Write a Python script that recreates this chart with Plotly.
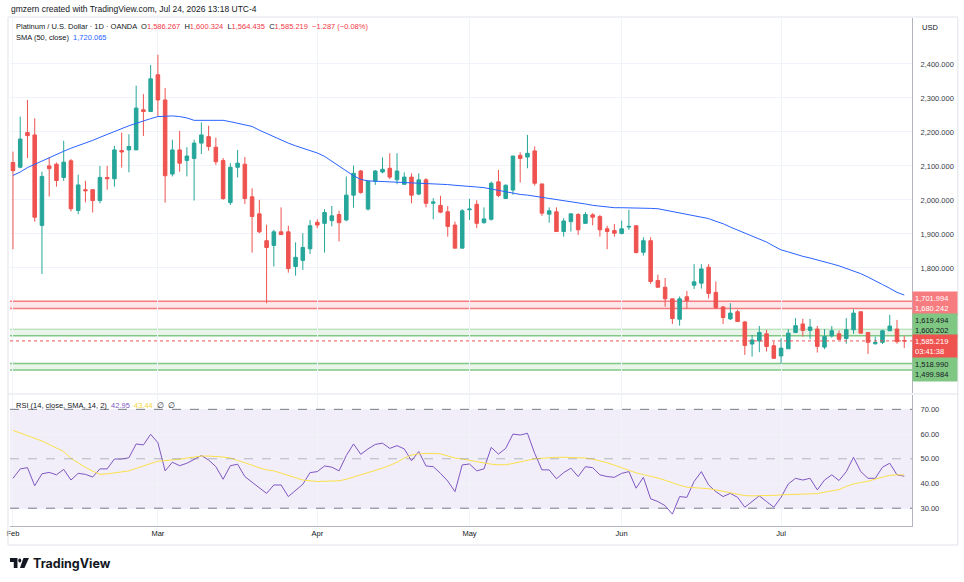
import pandas as pd
import plotly.graph_objects as go

# trading days Feb 2 - Jul 24 2026 (Good Friday closed)
dates = pd.bdate_range("2026-02-02", "2026-07-24")
dates = dates[dates != pd.Timestamp("2026-04-03")]
days = [d.strftime("%Y-%m-%d") for d in dates]

opens = [2110, 2096, 2198, 2191, 1925, 2100, 2105, 2066, 2115, 1969,
         2030, 2030, 1998, 2066, 2062, 2145, 2147, 2147, 2265, 2260,
         2368, 2294, 2076, 2147, 2116, 2122, 2167, 2186, 2155, 2116,
         1992, 2096, 2105, 2009, 1959, 1880, 1866, 1906, 1906, 1804,
         1822, 1856, 1934, 1931, 1939, 1957, 1941, 2014, 2085, 1973,
         2055, 2082, 2093, 2059, 2046, 2067, 2017, 2059, 1990, 1984,
         1965, 1926, 1858, 1971, 1987, 1933, 1943, 2053, 2004, 2029,
         2131, 2126, 2144, 2047, 1958, 1965, 1907, 1936, 1957, 1931,
         1956, 1951, 1915, 1910, 1901, 1920, 1924, 1846, 1880, 1763,
         1743, 1709, 1649, 1715, 1749, 1755, 1802, 1728, 1685, 1650,
         1671, 1641, 1576, 1585, 1606, 1571, 1541, 1562, 1610, 1635,
         1616, 1620, 1567, 1600, 1606, 1592, 1618, 1671, 1610, 1577,
         1581, 1615, 1620, 1586.267]
highs = [2142, 2245, 2294, 2240, 2083, 2126, 2110, 2174, 2120, 2074,
         2056, 2030, 2100, 2100, 2159, 2198, 2193, 2336, 2311, 2397,
         2427, 2329, 2177, 2203, 2155, 2177, 2228, 2218, 2183, 2123,
         2108, 2147, 2126, 2034, 2000, 1927, 1912, 1978, 1924, 1875,
         1902, 1941, 1943, 1973, 1982, 1968, 2069, 2101, 2088, 2055,
         2088, 2125, 2137, 2137, 2081, 2078, 2078, 2064, 2005, 2012,
         1982, 1936, 1973, 2003, 1999, 1978, 2054, 2088, 2046, 2129,
         2140, 2191, 2157, 2047, 1978, 1978, 1946, 1959, 1961, 1964,
         1961, 1956, 1924, 1929, 1939, 1971, 1924, 1890, 1890, 1780,
         1770, 1709, 1716, 1732, 1811, 1811, 1811, 1760, 1688, 1696,
         1677, 1644, 1603, 1629, 1618, 1583, 1593, 1620, 1652, 1650,
         1650, 1629, 1620, 1629, 1616, 1652, 1678, 1671, 1610, 1598,
         1618, 1662, 1647, 1600.324]
lows = [1855, 2093, 2123, 1936, 1782, 2010, 2039, 2056, 1966, 1958,
        1993, 1963, 1990, 2030, 2039, 2095, 2081, 2147, 2188, 2260,
        2245, 1992, 2069, 2083, 2069, 1998, 2135, 2145, 2103, 2000,
        1985, 2066, 1988, 1845, 1902, 1696, 1804, 1898, 1786, 1777,
        1794, 1841, 1917, 1845, 1922, 1878, 1937, 1977, 2018, 1969,
        2044, 2078, 2061, 2046, 2044, 1990, 2014, 1978, 1943, 1961,
        1892, 1858, 1858, 1941, 1917, 1930, 1939, 2008, 2004, 2015,
        2051, 2093, 2042, 1953, 1933, 1907, 1892, 1907, 1897, 1930,
        1925, 1892, 1855, 1892, 1899, 1912, 1843, 1836, 1753, 1743,
        1686, 1635, 1630, 1680, 1738, 1739, 1710, 1679, 1635, 1647,
        1642, 1544, 1539, 1552, 1554, 1534, 1518, 1562, 1608, 1598,
        1590, 1551, 1561, 1595, 1588, 1577, 1606, 1608, 1547, 1574,
        1576, 1615, 1577, 1564.435]
closes = [2086, 2179, 2189, 1949, 2069, 2092, 2057, 2111, 1974, 2044,
          2027, 1998, 2066, 2062, 2147, 2141, 2157, 2270, 2260, 2356,
          2294, 2071, 2147, 2108, 2129, 2167, 2191, 2157, 2112, 2004,
          2096, 2108, 2004, 1951, 1906, 1860, 1906, 1898, 1798, 1831,
          1860, 1924, 1926, 1963, 1953, 1933, 2014, 2078, 2022, 2055,
          2085, 2090, 2067, 2085, 2067, 2014, 2059, 1990, 1994, 1964,
          1922, 1858, 1968, 1973, 1931, 1944, 2049, 2013, 2043, 2129,
          2122, 2137, 2049, 1961, 1968, 1907, 1938, 1959, 1912, 1957,
          1949, 1912, 1907, 1902, 1915, 1922, 1845, 1880, 1760, 1743,
          1709, 1651, 1709, 1704, 1759, 1797, 1725, 1683, 1654, 1667,
          1642, 1572, 1588, 1610, 1569, 1534, 1564, 1608, 1630, 1616,
          1626, 1569, 1598, 1615, 1590, 1618, 1667, 1608, 1581, 1581,
          1615, 1629, 1583, 1585.219]
sma50 = [2072, 2082, 2095, 2105, 2115, 2124, 2134, 2143, 2152, 2159,
         2167, 2175, 2184, 2193, 2202, 2211, 2218, 2225, 2233, 2239,
         2245, 2246, 2247, 2245, 2241, 2234, 2234, 2235, 2235, 2234,
         2230, 2225, 2221, 2216, 2205, 2195, 2186, 2177, 2167, 2159,
         2152, 2145, 2138, 2128, 2114, 2100, 2086, 2071, 2060, 2056,
         2055, 2054, 2053, 2052, 2052, 2051, 2051, 2050, 2049, 2047,
         2045, 2043, 2042, 2040, 2038, 2036, 2032, 2028, 2023, 2019,
         2016, 2014, 2011, 2008, 2004, 2000, 1997, 1994, 1991, 1988,
         1984, 1981, 1978, 1977, 1977, 1977, 1977, 1976, 1975, 1974,
         1970, 1966, 1961, 1957, 1953, 1949, 1945, 1937, 1930, 1920,
         1911, 1903, 1895, 1886, 1876, 1864, 1853, 1847, 1840, 1834,
         1829, 1824, 1818, 1812, 1806, 1799, 1791, 1783, 1773, 1763,
         1751, 1740, 1728, 1720.065]
rsi = [42.1, 45.9, 46.4, 39.1, 43.9, 44.5, 43.5, 45.7, 41.4, 44.1,
       43.7, 42.6, 45.9, 45.9, 49.9, 49.9, 50.4, 56.0, 55.6, 59.9,
       56.5, 45.1, 48.6, 47.2, 48.2, 49.9, 51.3, 49.5, 46.8, 41.7,
       47.2, 47.8, 42.8, 40.5, 38.3, 36.0, 39.4, 39.4, 34.7, 37.4,
       39.7, 44.4, 44.8, 47.1, 46.6, 45.1, 51.3, 56.0, 51.8, 54.0,
       55.8, 56.3, 54.2, 55.3, 54.0, 49.2, 52.9, 47.1, 46.8, 44.1,
       41.0, 36.7, 47.5, 47.9, 45.1, 45.9, 54.6, 51.9, 54.2, 60.0,
       59.6, 60.3, 52.2, 45.5, 45.5, 41.9, 44.4, 46.2, 42.8, 46.8,
       46.4, 43.5, 42.8, 42.5, 44.1, 44.8, 38.1, 42.5, 33.8, 32.7,
       31.0, 27.6, 34.7, 34.4, 40.8, 44.8, 39.4, 36.7, 34.7, 36.0,
       34.4, 30.4, 32.7, 35.0, 32.7, 30.4, 34.4, 39.8, 42.1, 41.4,
       42.1, 37.4, 41.4, 43.5, 41.2, 44.8, 50.6, 44.8, 42.1, 42.1,
       46.6, 48.2, 43.5, 42.95]
rsi_ma = [61.5, 60.5, 59.5, 58.5, 57.2, 55.8, 54.4, 52.9, 50.2, 48.3,
          46.5, 45.0, 43.7, 43.9, 44.2, 44.6, 45.1, 46.1, 47.2, 48.1,
          49.0, 49.2, 49.4, 49.8, 50.3, 50.7, 51.1, 51.1, 51.0, 50.7,
          50.3, 49.4, 48.4, 47.4, 46.3, 45.5, 45.1, 44.2, 43.3, 42.3,
          41.4, 41.1, 40.8, 40.9, 41.0, 41.1, 41.7, 42.6, 43.4, 44.3,
          45.1, 46.2, 47.3, 48.6, 50.3, 51.5, 52.0, 52.2, 52.2, 52.0,
          51.0, 50.3, 49.9, 49.3, 48.7, 48.1, 47.8, 47.6, 47.6, 48.1,
          48.7, 49.4, 50.0, 50.2, 50.5, 50.6, 50.6, 50.6, 50.5, 50.3,
          49.9, 49.2, 48.4, 47.4, 46.3, 45.3, 44.3, 43.6, 43.0, 42.2,
          41.3, 40.2, 39.3, 38.5, 38.4, 38.2, 37.9, 37.4, 36.9, 36.3,
          35.7, 35.1, 35.0, 35.0, 35.1, 35.2, 35.4, 35.5, 35.6, 35.6,
          35.7, 35.9, 36.5, 36.9, 37.5, 38.8, 39.8, 40.4, 40.9, 41.8,
          42.6, 43.3, 43.5, 43.44]

price_ticks = [1800, 1900, 2000, 2100, 2200, 2300, 2400]
rsi_ticks = [30, 40, 50, 60, 70]
red_zone = [1680.242, 1701.994]
green_zone = [1600.202, 1619.494]
green_zone_low = [1499.984, 1518.990]
last_price = 1585.219

# first trading day of every month -> time axis ticks
month_ticks, month_names = [], []
for d in dates:
    if not month_ticks or d.month != pd.Timestamp(month_ticks[-1]).month:
        month_ticks.append(d.strftime("%Y-%m-%d"))
        month_names.append(d.strftime("%b"))

UP, DOWN = "#26a69a", "#ef5350"
GRID = "#f0f3fa"
TXT = "#131722"
FONT = "Liberation Sans"

# pixel helpers for decorations (plot area x 7..912, y 18..526)
def px(x):
    return (x - 7) / 905

def py(y):
    return (526 - y) / 508


fig = go.Figure()
fig.add_trace(go.Candlestick(x=days, open=opens, high=highs, low=lows, close=closes,
                             increasing=dict(line=dict(color=UP, width=1), fillcolor=UP),
                             decreasing=dict(line=dict(color=DOWN, width=1), fillcolor=DOWN),
                             whiskerwidth=0, showlegend=False, xaxis="x", yaxis="y"))
fig.add_trace(go.Scatter(x=days, y=sma50, mode="lines", line=dict(color="#2962ff", width=1),
                         showlegend=False, xaxis="x", yaxis="y"))
fig.add_trace(go.Scatter(x=days, y=rsi, mode="lines", line=dict(color="#7e57c2", width=1),
                         showlegend=False, xaxis="x2", yaxis="y2"))
fig.add_trace(go.Scatter(x=days, y=rsi_ma, mode="lines", line=dict(color="#fbe04a", width=1),
                         showlegend=False, xaxis="x2", yaxis="y2"))

shapes = []
# zones
for lo, hi, fill, c_lo, c_hi in [
        (red_zone[0], red_zone[1], "rgba(242,54,69,0.12)", "#f77c80", "#f77c80"),
        (green_zone[0], green_zone[1], "rgba(76,175,80,0.13)", "#81c784", "rgba(129,199,132,0.45)"),
        (green_zone_low[0], green_zone_low[1], "rgba(76,175,80,0.13)", "#81c784", "#81c784")]:
    shapes.append(dict(type="rect", xref="x domain", yref="y", x0=0, x1=1, y0=lo, y1=hi,
                       fillcolor=fill, line_width=0, layer="below"))
    shapes.append(dict(type="line", xref="x domain", yref="y", x0=0, x1=1, y0=lo, y1=lo,
                       line=dict(color=c_lo, width=1.5), layer="below"))
    shapes.append(dict(type="line", xref="x domain", yref="y", x0=0, x1=1, y0=hi, y1=hi,
                       line=dict(color=c_hi, width=1.5), layer="below"))
shapes.append(dict(type="line", xref="x domain", yref="y", x0=0, x1=1, y0=last_price, y1=last_price,
                   line=dict(color=DOWN, width=1, dash="dot")))
# RSI band
shapes.append(dict(type="rect", xref="x2 domain", yref="y2", x0=0, x1=1, y0=30, y1=70,
                   fillcolor="rgba(126,87,194,0.1)", line_width=0, layer="below"))
for lvl, col in [(70, "#787b86"), (50, "rgba(120,123,134,0.5)"), (30, "#787b86")]:
    shapes.append(dict(type="line", xref="x2 domain", yref="y2", x0=0, x1=1, y0=lvl, y1=lvl,
                       line=dict(color=col, width=1, dash="dash")))
# panel separator and outer frame
shapes.append(dict(type="line", xref="paper", yref="paper", x0=px(5), x1=px(958), y0=py(394), y1=py(394),
                   line=dict(color="#e0e3eb", width=1)))
shapes.append(dict(type="rect", xref="paper", yref="paper", x0=px(5), x1=px(958), y0=py(545), y1=py(17),
                   line=dict(color="#e0e3eb", width=1)))
# TradingView logo
shapes.append(dict(type="path", xref="paper", yref="paper",
                   path=f"M {px(7)} {py(558)} L {px(14.5)} {py(558)} L {px(14.5)} {py(568)} "
                        f"L {px(10.8)} {py(568)} L {px(10.8)} {py(562)} L {px(7)} {py(562)} Z",
                   fillcolor=TXT, line_width=0))
shapes.append(dict(type="circle", xref="paper", yref="paper", x0=px(15.3), x1=px(18.3), y0=py(562.5), y1=py(558.5),
                   fillcolor=TXT, line_width=0))
shapes.append(dict(type="path", xref="paper", yref="paper",
                   path=f"M {px(20.5)} {py(558)} L {px(26)} {py(558)} L {px(21.5)} {py(568)} "
                        f"L {px(17)} {py(568)} Z",
                   fillcolor=TXT, line_width=0))

GRAY = "#131722"
annotations = [
    dict(text="gmzern created with TradingView.com, Jul 24, 2026 13:18 UTC-4", xref="paper", yref="paper",
         x=px(6), y=py(9), xanchor="left", yanchor="middle", showarrow=False,
         font=dict(size=8.5, color=TXT, family=FONT)),
    dict(text=f"<span style='color:{GRAY}'>Platinum / U.S. Dollar · 1D · OANDA</span>  "
              f"<span style='color:{GRAY}'>O</span><span style='color:#f23645'>1,586.267</span>  "
              f"<span style='color:{GRAY}'>H</span><span style='color:#f23645'>1,600.324</span>  "
              f"<span style='color:{GRAY}'>L</span><span style='color:#f23645'>1,564.435</span>  "
              f"<span style='color:{GRAY}'>C</span><span style='color:#f23645'>1,585.219  −1.287 (−0.08%)</span>",
         xref="paper", yref="paper", x=px(11), y=py(27), xanchor="left", yanchor="middle", showarrow=False,
         font=dict(size=7.5, color=GRAY, family=FONT)),
    dict(text=f"SMA (50, close)  <span style='color:#2962ff'>1,720.065</span>",
         xref="paper", yref="paper", x=px(11), y=py(37), xanchor="left", yanchor="middle", showarrow=False,
         font=dict(size=7.5, color=GRAY, family=FONT)),
    dict(text=f"RSI (14, close, SMA, 14, 2)  <span style='color:#7e57c2'>42.95</span>  "
              f"<span style='color:#f5d63d'>43.44</span>  ∅  ∅",
         xref="paper", yref="paper", x=px(11), y=py(405), xanchor="left", yanchor="middle", showarrow=False,
         font=dict(size=7.5, color=GRAY, family=FONT)),
    dict(text="USD", xref="paper", yref="paper", x=px(920), y=py(28), xanchor="left", yanchor="middle",
         showarrow=False, font=dict(size=7.5, color=TXT, family=FONT)),
    dict(text="<b>TradingView</b>", xref="paper", yref="paper", x=px(28), y=py(563), xanchor="left",
         yanchor="middle", showarrow=False, font=dict(size=12.5, color=TXT, family="Inter")),
]
# price labels on the right scale
for text, yv, shift, bg, fc in [
        (f"{red_zone[1]:,.3f}<br>{red_zone[0]:,.3f}", sum(red_zone) / 2, 1, "#f77c80", "#ffffff"),
        (f"{green_zone[1]:,.3f}<br>{green_zone[0]:,.3f}", sum(green_zone) / 2, 7.5, "#81c784", TXT),
        (f"{last_price:,.3f}<br>03:41:38", last_price, -6, "#ef5350", "#ffffff"),
        (f"{green_zone_low[1]:,.3f}<br>{green_zone_low[0]:,.3f}", sum(green_zone_low) / 2, -3, "#81c784", TXT)]:
    annotations.append(dict(text=text, xref="paper", yref="y", x=1, y=yv, yshift=shift,
                            xanchor="left", yanchor="middle", align="left", showarrow=False,
                            bgcolor=bg, width=40, borderpad=2,
                            font=dict(size=7.5, color=fc, family=FONT)))

axis_common = dict(type="category", range=[-0.41, 124.07], tickvals=month_ticks, showgrid=True,
                   gridcolor=GRID, zeroline=False, fixedrange=True)
fig.update_layout(
    width=964, height=582,
    margin=dict(l=7, r=52, t=18, b=56),
    paper_bgcolor="white", plot_bgcolor="white",
    font=dict(family=FONT, color=TXT),
    xaxis=dict(**axis_common, anchor="y", showticklabels=False, rangeslider=dict(visible=False)),
    xaxis2=dict(**axis_common, anchor="y2", ticktext=month_names, ticks="",
                tickfont=dict(size=7.5, color=TXT), showline=True, linecolor="#b2b5be"),
    yaxis=dict(domain=[py(393), 1], side="right", range=[1432, 2535], tickvals=price_ticks,
               tickformat=",.3f", gridcolor=GRID, zeroline=False, showline=True, linecolor="#b2b5be",
               ticks="", ticklabelstandoff=6, tickfont=dict(size=7.5, color="#363a45")),
    yaxis2=dict(domain=[0, py(395)], side="right", range=[22.8, 75.8], tickvals=rsi_ticks,
                tickformat=".2f", gridcolor=GRID, zeroline=False, showline=True, linecolor="#b2b5be",
                ticks="", ticklabelstandoff=6, tickfont=dict(size=7.5, color="#363a45")),
    shapes=shapes,
    annotations=annotations,
    boxgap=0.3,
)

# the page's default body margin would shift the figure by 8px
fig.write_html("out.html", config={"displayModeBar": False},
               post_script="document.body.style.margin='0';")
